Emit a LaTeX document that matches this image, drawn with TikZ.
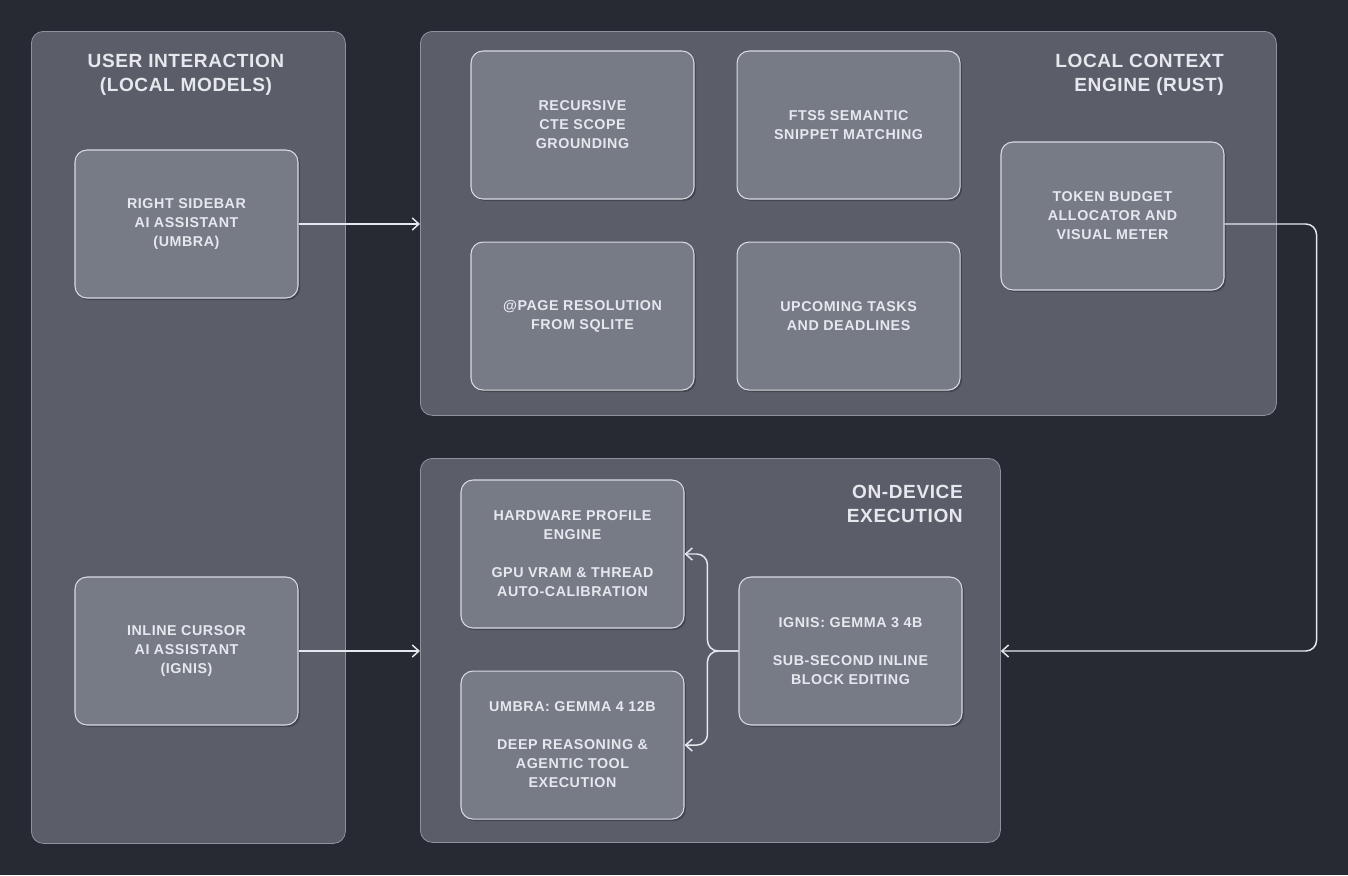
\documentclass[tikz,border=0pt]{standalone}
\usepackage{fontspec}
\setmainfont{Liberation Sans}
\newfontfamily\cardfont{Liberation Sans}[LetterSpace=4]
\newfontfamily\titlefont{Liberation Sans}[LetterSpace=3]
\usepackage{xcolor}
\usepackage{tikz}
\usetikzlibrary{arrows.meta, positioning, shadows}

\definecolor{canvas}{HTML}{272A33}
\definecolor{groupfill}{HTML}{5B5E69}
\definecolor{groupline}{HTML}{8E929C}
\definecolor{boxfill}{HTML}{777B86}
\definecolor{boxline}{HTML}{D9DBE1}
\definecolor{ink}{HTML}{E6E8EE}

\begin{document}
\begin{tikzpicture}[
    x=0.75pt, y=-0.75pt,
    group/.style={rectangle, rounded corners=9pt, draw=groupline, line width=0.6pt,
                  fill=groupfill, anchor=north west, inner sep=0pt},
    grouptitle/.style={font=\titlefont\fontsize{14.3}{18}\selectfont\bfseries, text=ink, inner sep=0pt},
    card/.style={rectangle, rounded corners=9pt, draw=boxline, line width=0.8pt,
                 fill=boxfill, minimum width=167.25pt, minimum height=111pt,
                 font=\cardfont\fontsize{10.7}{14.25}\selectfont\bfseries, text=ink, align=center,
                 drop shadow={shadow xshift=1.5pt, shadow yshift=-1.5pt, opacity=0.25, fill=black}},
    flow/.style={-{Straight Barb[length=5pt, width=9pt, line width=1.1pt]},
                 draw=ink, line width=1.1pt}
]

\fill[canvas] (0,0) rectangle (1348,875);
\useasboundingbox (0,0) rectangle (1348,875);

% Groups
\node[group, minimum width=235.5pt, minimum height=609pt] (user) at (31,31) {};
\node[group, minimum width=642pt, minimum height=288pt] (ctx) at (420,31) {};
\node[group, minimum width=435pt, minimum height=288pt] (dev) at (420,458) {};

% Group titles
\node[grouptitle, align=center] (usertitle) at (186,75) {USER INTERACTION\\(LOCAL MODELS)};
\node[grouptitle, align=right, anchor=east] (ctxtitle) at (1224,75) {LOCAL CONTEXT\\ENGINE (RUST)};
\node[grouptitle, align=right, anchor=east] (devtitle) at (963,504) {ON-DEVICE\\EXECUTION};

% User interaction (left column)
\node[card] (sidebar) at (186.5,224) {RIGHT SIDEBAR\\AI ASSISTANT\\(UMBRA)};
\node[card] (inline) at (186.5,651) {INLINE CURSOR\\AI ASSISTANT\\(IGNIS)};

% Local context engine
\node[card] (cte) at (582.5,125) {RECURSIVE\\CTE SCOPE\\GROUNDING};
\node[card, right=31.5pt of cte] (fts) {FTS5 SEMANTIC\\SNIPPET MATCHING};
\node[card, below=31.5pt of cte] (pageres) {@PAGE RESOLUTION\\FROM SQLITE};
\node[card, below=31.5pt of fts] (tasks) {UPCOMING TASKS\\AND DEADLINES};
\node[card] (budget) at (1112.5,216) {TOKEN BUDGET\\ALLOCATOR AND\\VISUAL METER};

% On-device execution
\node[card] (hwprofile) at (572.5,554) {HARDWARE PROFILE\\ENGINE\\[14.25pt]GPU VRAM \& THREAD\\AUTO-CALIBRATION};
\node[card, below=31.5pt of hwprofile] (umbra) {UMBRA: GEMMA 4 12B\\[14.25pt]DEEP REASONING \&\\AGENTIC TOOL\\EXECUTION};
\node[card] (ignis) at (850.5,651) {IGNIS: GEMMA 3 4B\\[14.25pt]SUB-SECOND INLINE\\BLOCK EDITING};

% Connectors
\draw[flow] (sidebar.east) -- (sidebar.east -| ctx.west);
\draw[flow] (inline.east) -- (inline.east -| dev.west);
\draw[flow, rounded corners=8pt] (budget.east |- sidebar.east) -- ++(92,0) |- (ignis.east -| dev.east);

\coordinate (split) at ([xshift=-23.25pt]ignis.west);
\draw[flow, rounded corners=8pt] (ignis.west) -- (split) |- (hwprofile.east);
\draw[flow, rounded corners=8pt] (ignis.west) -- (split) |- (umbra.east);

\end{tikzpicture}
\end{document}
